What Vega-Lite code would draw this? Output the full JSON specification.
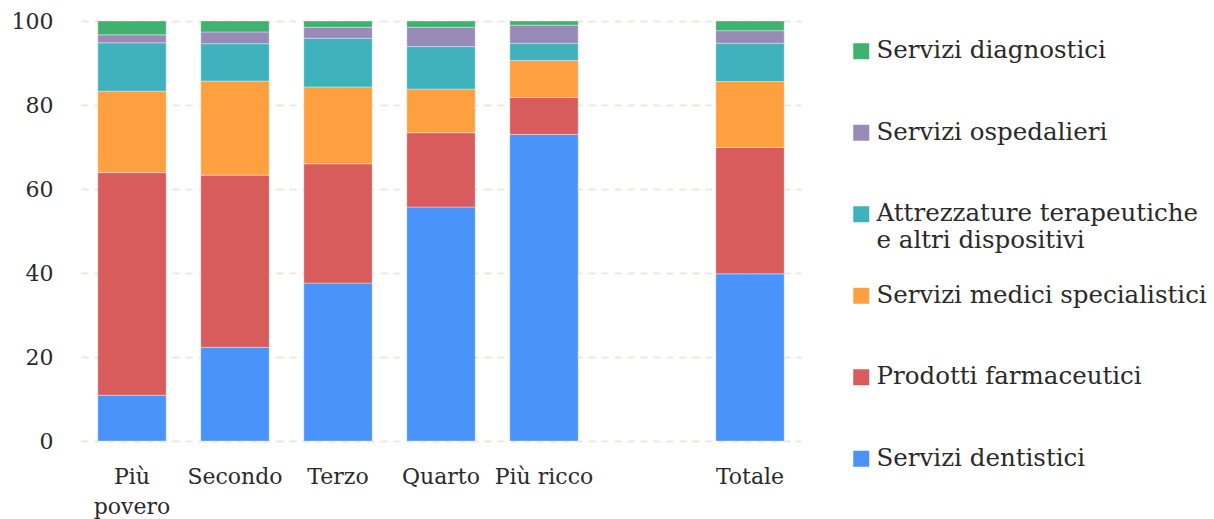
{
  "$schema": "https://vega.github.io/schema/vega-lite/v6.json",
  "autosize": "none",
  "padding": {"left": 81, "top": 21, "right": 413, "bottom": 78},
  "width": 720,
  "height": 420,
  "background": "white",
  "config": {
    "view": {"stroke": null},
    "font": "DejaVu Serif",
    "axis": {"labelFont": "DejaVu Serif", "labelColor": "#2a2a2a"},
    "legend": {"labelFont": "DejaVu Serif", "labelColor": "#2a2a2a"}
  },
  "data": {
    "values": [
      {"q": "Più povero", "cat": "Servizi dentistici", "v": 10.9},
      {"q": "Più povero", "cat": "Prodotti farmaceutici", "v": 53.0},
      {"q": "Più povero", "cat": "Servizi medici specialistici", "v": 19.4},
      {"q": "Più povero", "cat": "Attrezzature terapeutiche e altri dispositivi", "v": 11.5},
      {"q": "Più povero", "cat": "Servizi ospedalieri", "v": 1.9},
      {"q": "Più povero", "cat": "Servizi diagnostici", "v": 3.3},
      {"q": "Secondo", "cat": "Servizi dentistici", "v": 22.3},
      {"q": "Secondo", "cat": "Prodotti farmaceutici", "v": 41.0},
      {"q": "Secondo", "cat": "Servizi medici specialistici", "v": 22.4},
      {"q": "Secondo", "cat": "Attrezzature terapeutiche e altri dispositivi", "v": 8.9},
      {"q": "Secondo", "cat": "Servizi ospedalieri", "v": 2.8},
      {"q": "Secondo", "cat": "Servizi diagnostici", "v": 2.6},
      {"q": "Terzo", "cat": "Servizi dentistici", "v": 37.6},
      {"q": "Terzo", "cat": "Prodotti farmaceutici", "v": 28.4},
      {"q": "Terzo", "cat": "Servizi medici specialistici", "v": 18.3},
      {"q": "Terzo", "cat": "Attrezzature terapeutiche e altri dispositivi", "v": 11.6},
      {"q": "Terzo", "cat": "Servizi ospedalieri", "v": 2.6},
      {"q": "Terzo", "cat": "Servizi diagnostici", "v": 1.5},
      {"q": "Quarto", "cat": "Servizi dentistici", "v": 55.7},
      {"q": "Quarto", "cat": "Prodotti farmaceutici", "v": 17.7},
      {"q": "Quarto", "cat": "Servizi medici specialistici", "v": 10.4},
      {"q": "Quarto", "cat": "Attrezzature terapeutiche e altri dispositivi", "v": 10.1},
      {"q": "Quarto", "cat": "Servizi ospedalieri", "v": 4.6},
      {"q": "Quarto", "cat": "Servizi diagnostici", "v": 1.5},
      {"q": "Più ricco", "cat": "Servizi dentistici", "v": 73.0},
      {"q": "Più ricco", "cat": "Prodotti farmaceutici", "v": 8.8},
      {"q": "Più ricco", "cat": "Servizi medici specialistici", "v": 8.8},
      {"q": "Più ricco", "cat": "Attrezzature terapeutiche e altri dispositivi", "v": 4.1},
      {"q": "Più ricco", "cat": "Servizi ospedalieri", "v": 4.3},
      {"q": "Più ricco", "cat": "Servizi diagnostici", "v": 1.0},
      {"q": "Totale", "cat": "Servizi dentistici", "v": 39.8},
      {"q": "Totale", "cat": "Prodotti farmaceutici", "v": 30.1},
      {"q": "Totale", "cat": "Servizi medici specialistici", "v": 15.7},
      {"q": "Totale", "cat": "Attrezzature terapeutiche e altri dispositivi", "v": 9.1},
      {"q": "Totale", "cat": "Servizi ospedalieri", "v": 3.0},
      {"q": "Totale", "cat": "Servizi diagnostici", "v": 2.3}
    ]
  },
  "transform": [
    {"calculate": "indexof(['Servizi diagnostici','Servizi ospedalieri','Attrezzature terapeutiche e altri dispositivi','Servizi medici specialistici','Prodotti farmaceutici','Servizi dentistici'], datum.cat)", "as": "ord"}
  ],
  "mark": {"type": "bar", "stroke": "white", "strokeOpacity": 0.35, "strokeWidth": 1},
  "encoding": {
    "x": {
      "field": "q",
      "type": "nominal",
      "scale": {"domain": ["Più povero", "Secondo", "Terzo", "Quarto", "Più ricco", " ", "Totale"], "paddingInner": 0.336, "paddingOuter": 0.163},
      "axis": {
        "title": null,
        "domain": false,
        "ticks": false,
        "labelAngle": 0,
        "labelFontSize": 22,
        "labelPadding": 25,
        "labelLineHeight": 30,
        "labelExpr": "datum.label == 'Più povero' ? ['Più', 'povero'] : datum.label"
      }
    },
    "y": {
      "field": "v",
      "type": "quantitative",
      "stack": "zero",
      "scale": {"domain": [0, 100]},
      "axis": {
        "title": null,
        "domain": false,
        "ticks": false,
        "values": [0, 20, 40, 60, 80, 100],
        "labelFontSize": 22,
        "labelPadding": 28,
        "gridColor": "#ece8dc",
        "gridDash": [7, 6],
        "gridWidth": 2
      }
    },
    "color": {
      "field": "cat",
      "type": "nominal",
      "scale": {
        "domain": ["Servizi diagnostici", "Servizi ospedalieri", "Attrezzature terapeutiche e altri dispositivi", "Servizi medici specialistici", "Prodotti farmaceutici", "Servizi dentistici"],
        "range": ["#40b26f", "#998bb8", "#40b2bd", "#ffa040", "#d95c5d", "#4a93fa"]
      },
      "legend": {
        "title": null,
        "orient": "right",
        "offset": 30,
        "padding": 18,
        "symbolType": "square",
        "symbolSize": 256,
        "symbolStrokeWidth": 0,
        "symbolOpacity": 1,
        "labelFontSize": 24.5,
        "labelOffset": 3,
        "labelLimit": 400,
        "gridAlign": "all",
        "rowPadding": 29.5,
        "labelExpr": "datum.label == 'Attrezzature terapeutiche e altri dispositivi' ? ['Attrezzature terapeutiche', 'e altri dispositivi'] : datum.label",
        "encode": {"labels": {"update": {"lineHeight": {"value": 32}}}}
      }
    },
    "order": {"field": "ord", "type": "quantitative", "sort": "descending"}
  }
}
